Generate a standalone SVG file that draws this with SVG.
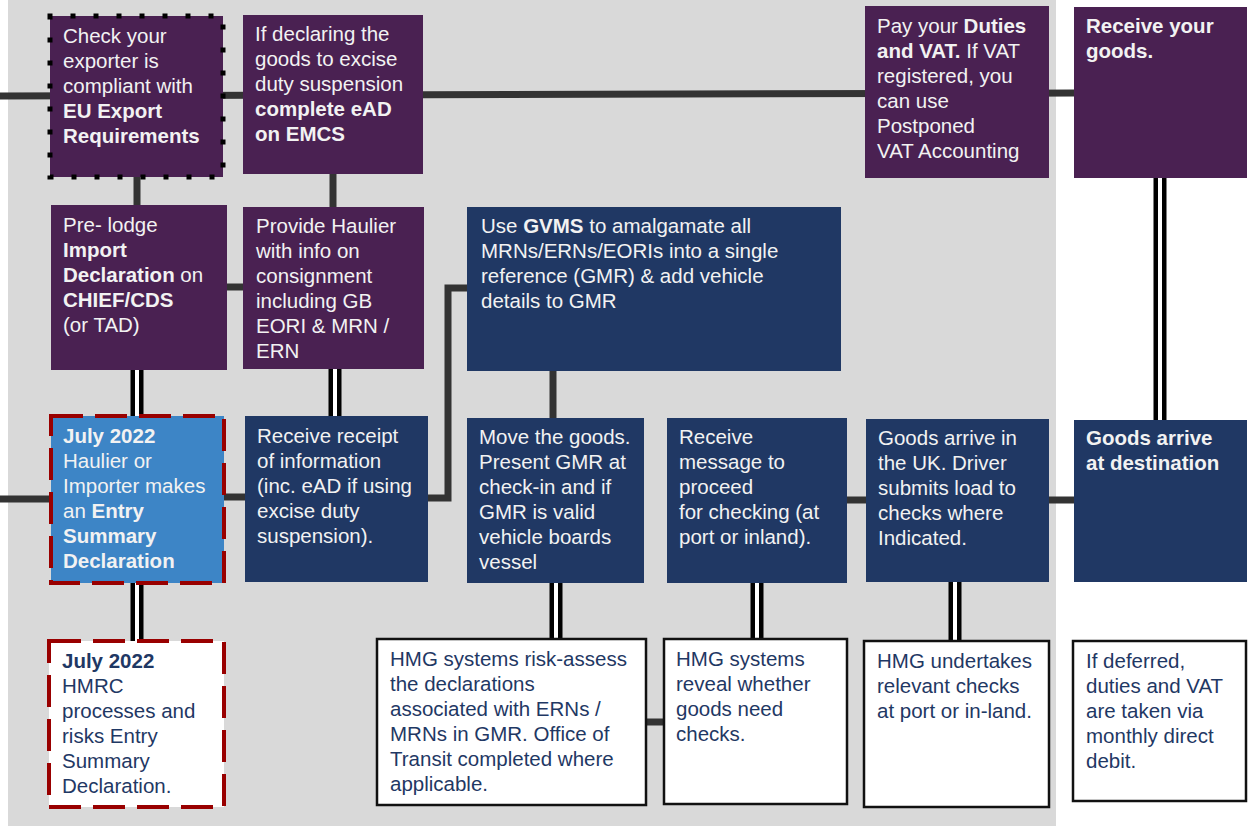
<svg xmlns="http://www.w3.org/2000/svg" width="1255" height="826" viewBox="0 0 1255 826">
<style>
text{font-family:"Liberation Sans",Arial,sans-serif;font-size:20.5px}
.w{fill:#f2f2f2}
.n{fill:#1f3864}
.b{font-weight:bold}
.purple{fill:#4a2152}
.navy{fill:#203864}
.blue{fill:#3d85c6}
.white{fill:#ffffff;stroke:#111111;stroke-width:2.5}
.red{stroke:#990000;stroke-width:4;stroke-dasharray:32 12}
.dot{fill:none;stroke:#000;stroke-width:5;stroke-dasharray:5 18}
.single{fill:none;stroke:#333333;stroke-width:7}
.dblo{fill:none;stroke:#000;stroke-width:13}
.dbli{fill:none;stroke:#fff;stroke-width:4}
</style>
<rect x="0" y="0" width="1255" height="826" fill="#ffffff"/>
<rect x="8" y="0" width="1048" height="826" fill="#d9d9d9"/>
<g id="connectors">
<path class="single" d="M0,96 L1074,93"/>
<path class="single" d="M137,177 V205"/>
<path class="single" d="M333,174 V207"/>
<path class="single" d="M227,287 H243"/>
<path class="single" d="M0,499 H51"/>
<path class="single" d="M224,497 H245"/>
<path class="single" d="M428,498 H448 V288 H467"/>
<path class="single" d="M553,371 V418"/>
<path class="single" d="M847,500 H866"/>
<path class="single" d="M1049,500 H1074"/>
<path class="single" d="M646,722 H664"/>
<path class="dblo" d="M137,370 V416 M137,583 V641 M335,369 V416 M556,583 V639 M757,583 V639 M955,582 V641 M1160,178 V420"/>
<path class="dbli" d="M137,370 V416 M137,583 V641 M335,369 V416 M556,583 V639 M757,583 V639 M955,582 V641 M1160,178 V420"/>
</g>
<g id="n1">
<rect class="purple" x="50" y="16" width="173" height="161"/>
<rect class="dot" x="50" y="16" width="173" height="161" stroke-dashoffset="2.5"/>
<text class="w" x="63" y="43">Check your</text>
<text class="w" x="63" y="68">exporter is</text>
<text class="w" x="63" y="93">compliant with</text>
<text class="w b" x="63" y="118">EU Export</text>
<text class="w b" x="63" y="143">Requirements</text>
</g>
<g id="n2">
<rect class="purple" x="243" y="15" width="180" height="159"/>
<text class="w" x="255" y="41">If declaring the</text>
<text class="w" x="255" y="66">goods to excise</text>
<text class="w" x="255" y="91">duty suspension</text>
<text class="w b" x="255" y="116">complete eAD</text>
<text class="w b" x="255" y="141">on EMCS</text>
</g>
<g id="n3">
<rect class="purple" x="865" y="6" width="184" height="172"/>
<text class="w" x="877" y="33">Pay your <tspan class="b">Duties</tspan></text>
<text class="w" x="877" y="58"><tspan class="b">and VAT.</tspan> If VAT</text>
<text class="w" x="877" y="83">registered, you</text>
<text class="w" x="877" y="108">can use</text>
<text class="w" x="877" y="133">Postponed</text>
<text class="w" x="877" y="158">VAT Accounting</text>
</g>
<g id="n4">
<rect class="purple" x="1074" y="7" width="173" height="171"/>
<text class="w b" x="1086" y="33">Receive your</text>
<text class="w b" x="1086" y="58">goods.</text>
</g>
<g id="n5">
<rect class="purple" x="51" y="205" width="176" height="165"/>
<text class="w" x="63" y="232">Pre- lodge</text>
<text class="w b" x="63" y="257">Import</text>
<text class="w" x="63" y="282"><tspan class="b">Declaration</tspan> on</text>
<text class="w b" x="63" y="307">CHIEF/CDS</text>
<text class="w" x="63" y="332">(or TAD)</text>
</g>
<g id="n6">
<rect class="purple" x="243" y="207" width="181" height="162"/>
<text class="w" x="256" y="233">Provide Haulier</text>
<text class="w" x="256" y="258">with info on</text>
<text class="w" x="256" y="283">consignment</text>
<text class="w" x="256" y="308">including GB</text>
<text class="w" x="256" y="333">EORI &amp; MRN /</text>
<text class="w" x="256" y="358">ERN</text>
</g>
<g id="n7">
<rect class="navy" x="467" y="207" width="374" height="164"/>
<text class="w" x="481" y="233">Use <tspan class="b">GVMS</tspan> to amalgamate all</text>
<text class="w" x="481" y="258">MRNs/ERNs/EORIs into a single</text>
<text class="w" x="481" y="283">reference (GMR) &amp; add vehicle</text>
<text class="w" x="481" y="308">details to GMR</text>
</g>
<g id="n8">
<rect class="blue" x="51" y="416" width="173" height="167"/>
<rect class="red" fill="none" x="51" y="416" width="173" height="167"/>
<text class="w b" x="63" y="443">July 2022</text>
<text class="w" x="63" y="468">Haulier or</text>
<text class="w" x="63" y="493">Importer makes</text>
<text class="w" x="63" y="518">an <tspan class="b">Entry</tspan></text>
<text class="w b" x="63" y="543">Summary</text>
<text class="w b" x="63" y="568">Declaration</text>
</g>
<g id="n9">
<rect class="navy" x="245" y="416" width="183" height="166"/>
<text class="w" x="257" y="443">Receive receipt</text>
<text class="w" x="257" y="468">of information</text>
<text class="w" x="257" y="493">(inc. eAD if using</text>
<text class="w" x="257" y="518">excise duty</text>
<text class="w" x="257" y="543">suspension).</text>
</g>
<g id="n10">
<rect class="navy" x="467" y="418" width="177" height="165"/>
<text class="w" x="479" y="444">Move the goods.</text>
<text class="w" x="479" y="469">Present GMR at</text>
<text class="w" x="479" y="494">check-in and if</text>
<text class="w" x="479" y="519">GMR is valid</text>
<text class="w" x="479" y="544">vehicle boards</text>
<text class="w" x="479" y="569">vessel</text>
</g>
<g id="n11">
<rect class="navy" x="667" y="418" width="180" height="165"/>
<text class="w" x="679" y="444">Receive</text>
<text class="w" x="679" y="469">message to</text>
<text class="w" x="679" y="494">proceed</text>
<text class="w" x="679" y="519">for checking (at</text>
<text class="w" x="679" y="544">port or inland).</text>
</g>
<g id="n12">
<rect class="navy" x="866" y="419" width="183" height="163"/>
<text class="w" x="878" y="445">Goods arrive in</text>
<text class="w" x="878" y="470">the UK. Driver</text>
<text class="w" x="878" y="495">submits load to</text>
<text class="w" x="878" y="520">checks where</text>
<text class="w" x="878" y="545">Indicated.</text>
</g>
<g id="n13">
<rect class="navy" x="1074" y="420" width="173" height="162"/>
<text class="w b" x="1086" y="445">Goods arrive</text>
<text class="w b" x="1086" y="470">at destination</text>
</g>
<g id="n14">
<rect x="49" y="641" width="175" height="166" fill="#ffffff"/>
<rect class="red" fill="none" x="49" y="641" width="175" height="166"/>
<text class="n b" x="62" y="668">July 2022</text>
<text class="n" x="62" y="693">HMRC</text>
<text class="n" x="62" y="718">processes and</text>
<text class="n" x="62" y="743">risks Entry</text>
<text class="n" x="62" y="768">Summary</text>
<text class="n" x="62" y="793">Declaration.</text>
</g>
<g id="n15">
<rect class="white" x="377" y="639" width="269" height="166"/>
<text class="n" x="390" y="666">HMG systems risk-assess</text>
<text class="n" x="390" y="691">the declarations</text>
<text class="n" x="390" y="716">associated with ERNs /</text>
<text class="n" x="390" y="741">MRNs in GMR. Office of</text>
<text class="n" x="390" y="766">Transit completed where</text>
<text class="n" x="390" y="791">applicable.</text>
</g>
<g id="n16">
<rect class="white" x="664" y="639" width="183" height="165"/>
<text class="n" x="676" y="666">HMG systems</text>
<text class="n" x="676" y="691">reveal whether</text>
<text class="n" x="676" y="716">goods need</text>
<text class="n" x="676" y="741">checks.</text>
</g>
<g id="n17">
<rect class="white" x="864" y="641" width="185" height="166"/>
<text class="n" x="877" y="668">HMG undertakes</text>
<text class="n" x="877" y="693">relevant checks</text>
<text class="n" x="877" y="718">at port or in-land.</text>
</g>
<g id="n18">
<rect class="white" x="1073" y="641" width="173" height="160"/>
<text class="n" x="1086" y="668">If deferred,</text>
<text class="n" x="1086" y="693">duties and VAT</text>
<text class="n" x="1086" y="718">are taken via</text>
<text class="n" x="1086" y="743">monthly direct</text>
<text class="n" x="1086" y="768">debit.</text>
</g>
</svg>
